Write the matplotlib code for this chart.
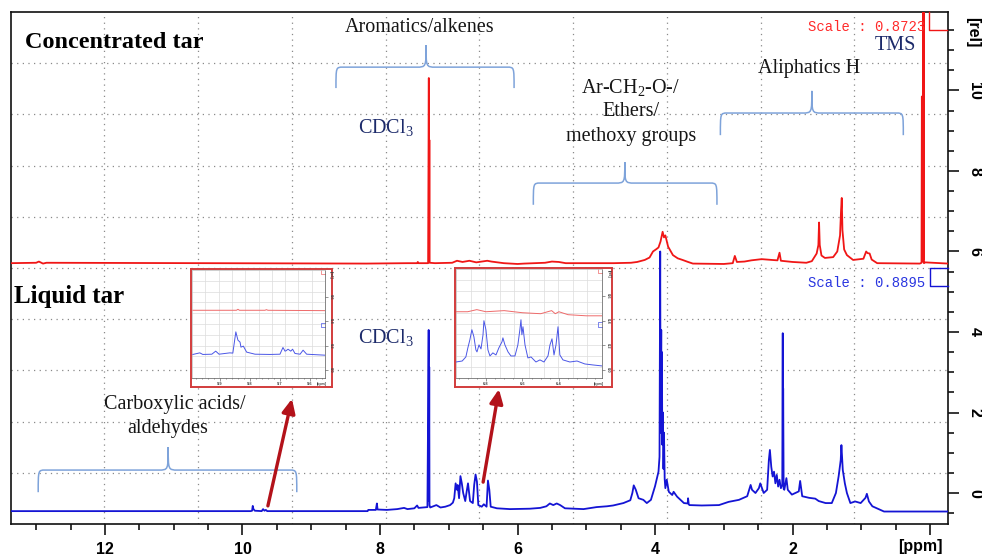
import matplotlib

matplotlib.use("Agg")
import matplotlib.pyplot as plt
from matplotlib.lines import Line2D
from matplotlib.patches import PathPatch
from matplotlib.path import Path
from matplotlib.ticker import FixedLocator, MultipleLocator

# ==========================================================================
# DATA - 1H NMR traces (ppm, relative intensity), concentrated tar is offset
# ==========================================================================
CONC_PPM = [
    13.37, 13.0, 12.96, 12.9, 12.85, 8.2, 7.6, 7.46, 7.45, 7.44,
    7.3, 7.29, 7.286, 7.282, 7.278, 7.2, 6.95, 6.88, 6.8, 6.7,
    6.6, 6.44, 6.38, 6.2, 6.0, 5.9, 5.6, 5.5, 5.4, 5.3,
    4.6, 4.35, 4.26, 4.15, 4.08, 4.03, 3.98, 3.95, 3.92, 3.89,
    3.87, 3.85, 3.81, 3.74, 3.67, 3.6, 3.52, 3.45, 3.0, 2.87,
    2.84, 2.81, 2.7, 2.6, 2.45, 2.3, 2.22, 2.19, 2.17, 2.0,
    1.8, 1.72, 1.65, 1.625, 1.615, 1.605, 1.58, 1.53, 1.41, 1.35,
    1.31, 1.295, 1.285, 1.275, 1.25, 1.21, 1.12, 0.97, 0.93, 0.91,
    0.88, 0.85, 0.77, 0.15, 0.125, 0.12, 0.112, 0.10, 0.097, 0.094,
    0.09, 0.07, -0.26,
]
CONC_INT = [
    5.71, 5.72, 5.75, 5.70, 5.72, 5.70, 5.71, 5.71, 5.74, 5.71,
    5.71, 10.31, 5.75, 8.77, 5.72, 5.71, 5.72, 5.77, 5.74, 5.77,
    5.73, 5.77, 5.75, 5.71, 5.69, 5.70, 5.72, 5.75, 5.74, 5.71,
    5.71, 5.72, 5.74, 5.79, 5.85, 6.00, 6.06, 6.10, 6.25, 6.49,
    6.35, 6.40, 6.12, 5.91, 5.83, 5.79, 5.74, 5.70, 5.69, 5.71,
    5.89, 5.74, 5.75, 5.78, 5.81, 5.79, 5.78, 5.97, 5.77, 5.74,
    5.72, 5.76, 5.95, 6.16, 6.72, 6.16, 5.90, 5.84, 5.86, 6.00,
    6.40, 7.03, 7.33, 6.53, 6.05, 5.91, 5.79, 5.82, 6.00, 5.96,
    5.95, 5.80, 5.71, 5.70, 5.72, 9.85, 5.75, 13.00, 5.80, 13.00,
    5.71, 5.73, 5.70,
]

LIQ_PPM = [
    13.37, 9.88, 9.86, 9.85, 9.84, 9.82, 9.72, 9.70, 9.68, 9.66,
    9.64, 8.18, 8.17, 8.06, 8.045, 8.035, 7.9, 7.75, 7.65, 7.6,
    7.5, 7.46, 7.44, 7.31, 7.292, 7.288, 7.284, 7.28, 7.27, 7.18,
    7.12, 7.05, 6.98, 6.94, 6.92, 6.90, 6.88, 6.87, 6.85, 6.83,
    6.81, 6.79, 6.76, 6.74, 6.72, 6.69, 6.65, 6.63, 6.61, 6.59,
    6.57, 6.52, 6.49, 6.45, 6.43, 6.41, 6.39, 6.30, 6.11, 5.82,
    5.67, 5.58, 5.53, 5.48, 5.43, 5.38, 5.31, 5.04, 4.85, 4.70,
    4.61, 4.46, 4.36, 4.33, 4.31, 4.28, 4.24, 4.17, 4.12, 4.06,
    4.00, 3.95, 3.935, 3.925, 3.92, 3.91, 3.905, 3.90, 3.895, 3.885,
    3.878, 3.87, 3.86, 3.85, 3.83, 3.80, 3.75, 3.73, 3.68, 3.63,
    3.58, 3.525, 3.52, 3.51, 3.50, 3.32, 3.07, 2.93, 2.78, 2.66,
    2.61, 2.59, 2.54, 2.49, 2.47, 2.42, 2.37, 2.345, 2.33, 2.31,
    2.29, 2.27, 2.25, 2.23, 2.21, 2.19, 2.17, 2.15, 2.143, 2.14,
    2.137, 2.13, 2.12, 2.09, 2.07, 2.01, 1.91, 1.89, 1.86, 1.76,
    1.67, 1.62, 1.52, 1.43, 1.37, 1.33, 1.30, 1.29, 1.27, 1.24,
    1.21, 1.16, 1.09, 1.01, 0.94, 0.92, 0.89, 0.84, 0.75, 0.67,
    -0.26,
]
LIQ_INT = [
    -0.45, -0.45, -0.44, -0.32, -0.40, -0.44, -0.45, -0.40, -0.44, -0.42,
    -0.45, -0.45, -0.42, -0.42, -0.26, -0.41, -0.42, -0.40, -0.37, -0.40,
    -0.38, -0.31, -0.37, -0.35, 4.05, -0.20, 3.13, -0.30, -0.36, -0.30,
    -0.36, -0.34, -0.30, -0.24, -0.13, 0.24, 0.08, 0.20, -0.13, 0.42,
    0.24, 0.00, -0.20, 0.03, 0.24, -0.20, -0.25, 0.20, 0.46, 0.28,
    -0.30, -0.34, -0.28, -0.34, 0.31, 0.08, -0.34, -0.38, -0.40, -0.39,
    -0.37, -0.33, -0.26, -0.30, -0.26, -0.30, -0.38, -0.40, -0.35, -0.33,
    -0.31, -0.25, -0.18, 0.00, 0.19, 0.08, -0.13, -0.17, -0.25, -0.17,
    0.17, 0.53, 0.90, 6.00, 1.50, 4.05, 1.50, 3.50, 1.20, 2.00,
    0.60, 1.50, 0.35, 0.12, 0.33, 0.03, -0.05, 0.03, -0.09, -0.17,
    -0.25, -0.26, -0.13, -0.28, -0.30, -0.31, -0.30, -0.22, -0.17, -0.08,
    0.20, 0.08, 0.00, 0.12, 0.24, 0.00, 0.08, 0.82, 1.07, 0.65,
    0.41, 0.53, 0.24, 0.45, 0.16, 0.33, 0.12, 0.20, 3.97, 0.50,
    2.60, 0.10, 0.08, 0.37, 0.08, -0.04, 0.04, 0.30, -0.08, -0.12,
    -0.14, -0.20, -0.25, -0.25, 0.00, 0.42, 0.82, 1.19, 0.57, 0.24,
    0.00, -0.25, -0.21, -0.25, -0.12, -0.02, -0.21, -0.33, -0.40, -0.46,
    -0.46,
]

# expansion 1: aldehyde region
ALD_PPM = [
    9.99, 9.967, 9.957, 9.927, 9.914, 9.903, 9.867, 9.857, 9.847, 9.84,
    9.833, 9.83, 9.822, 9.811, 9.783, 9.733, 9.70, 9.69, 9.683, 9.68,
    9.673, 9.664, 9.658, 9.65, 9.633, 9.623, 9.611, 9.55,
]
ALD_LIQ = [
    0.128, 0.141, 0.128, 0.13, 0.155, 0.13, 0.141, 0.139, 0.313, 0.245,
    0.229, 0.188, 0.196, 0.147, 0.13, 0.128, 0.13, 0.185, 0.155, 0.158,
    0.171, 0.155, 0.171, 0.136, 0.13, 0.163, 0.13, 0.122,
]
ALD_CONC_PPM = [9.99, 9.845, 9.84, 9.835, 9.75, 9.745, 9.74, 9.55]
ALD_CONC = [0.49, 0.49, 0.498, 0.49, 0.49, 0.495, 0.49, 0.487]

# expansion 2: olefinic / aromatic region
ARO_PPM = [
    6.964, 6.93, 6.91, 6.899, 6.888, 6.877, 6.866, 6.855, 6.849, 6.838,
    6.827, 6.816, 6.811, 6.80, 6.789, 6.778, 6.762, 6.745, 6.729, 6.712,
    6.707, 6.696, 6.679, 6.663, 6.641, 6.625, 6.614, 6.608, 6.603, 6.597,
    6.586, 6.57, 6.553, 6.526, 6.504, 6.482, 6.46, 6.449, 6.438, 6.427,
    6.416, 6.405, 6.395, 6.378, 6.34, 6.301, 6.258, 6.214, 6.164,
]
ARO_LIQ = [
    0.065, 0.073, 0.106, 0.18, 0.245, 0.327, 0.27, 0.163, 0.147, 0.204,
    0.171, 0.286, 0.40, 0.327, 0.163, 0.114, 0.139, 0.122, 0.18, 0.229,
    0.261, 0.204, 0.147, 0.114, 0.114, 0.204, 0.327, 0.408, 0.286, 0.351,
    0.204, 0.098, 0.106, 0.065, 0.082, 0.065, 0.114, 0.204, 0.253, 0.122,
    0.204, 0.351, 0.122, 0.082, 0.065, 0.073, 0.049, 0.041, 0.033,
]
ARO_CONC_PPM = [6.964, 6.90, 6.85, 6.80, 6.70, 6.60, 6.50, 6.44, 6.42, 6.40, 6.35, 6.25, 6.164]
ARO_CONC = [0.473, 0.473, 0.49, 0.473, 0.482, 0.465, 0.457, 0.482, 0.457, 0.473, 0.449, 0.44, 0.44]

X_TICKS = [12, 10, 8, 6, 4, 2, 0]
X_LABELS = ["12", "10", "8", "6", "4", "2", ""]
Y_TICKS = [0, 2, 4, 6, 8, 10]
Y_LABELS = ["0", "2", "4", "6", "8", "10"]
INSET_Y_TICKS = [0.0, 0.2, 0.4, 0.6]
INSET_Y_LABELS = ["0.0", "0.2", "0.4", "0.6"]
ALD_TICKS = [9.9, 9.8, 9.7, 9.6]
ARO_TICKS = [6.8, 6.6, 6.4]

# ==========================================================================
# STYLE
# ==========================================================================
W, H = 982, 557
RED = "#f01616"
BLUE = "#1414d4"
NAVY = "#1c2a6a"
INK = "#151515"
BRACE = "#7ea3da"
ARROW = "#b3121a"
GRID = "#8a8a8a"
FRAME = "#d23c3c"
SERIF = "Liberation Serif"

plt.rcParams["font.family"] = ["Liberation Sans", "DejaVu Sans"]
plt.rcParams["mathtext.fontset"] = "custom"
plt.rcParams["mathtext.rm"] = SERIF
plt.rcParams["mathtext.it"] = SERIF + ":italic"
plt.rcParams["mathtext.bf"] = SERIF + ":bold"


def fig_xy(px, py):
    return px / W, 1 - py / H


def fig_rect(x0, y0, x1, y1):
    return [x0 / W, 1 - y1 / H, (x1 - x0) / W, (y1 - y0) / H]


def dotted_grid(ax, color, ls, lw):
    for i in range(1, 10):
        f = i / 10
        ax.plot([f, f], [0, 1], transform=ax.transAxes, color=color, lw=lw, ls=ls, zorder=1)
        ax.plot([0, 1], [f, f], transform=ax.transAxes, color=color, lw=lw, ls=ls, zorder=1)


def draw_brace(ax, left, right, tip, bottom, level, top):
    # ppm runs right-to-left, so moving rightwards means subtracting
    end, cusp = 0.10, 0.14
    verts = [
        (left, bottom), (left, level), (left, level), (left - end, level),
        (tip + cusp, level),
        (tip, level), (tip, level), (tip, top),
        (tip, level), (tip, level), (tip - cusp, level),
        (right + end, level),
        (right, level), (right, level), (right, bottom),
    ]
    C, L = Path.CURVE4, Path.LINETO
    codes = [Path.MOVETO, C, C, C, L, C, C, C, C, C, C, L, C, C, C]
    ax.add_patch(PathPatch(Path(verts, codes), facecolor="none", edgecolor=BRACE,
                           lw=1.1, zorder=4))


def draw_inset(fig, frame_px, inner_px, xlim, ylim, ppm, liq, conc_ppm, conc, ticks, step):
    frame = fig.add_axes(fig_rect(*frame_px))
    frame.set_xticks([])
    frame.set_yticks([])
    for sp in frame.spines.values():
        sp.set_color(FRAME)
        sp.set_linewidth(1.4)

    ax = fig.add_axes(fig_rect(*inner_px))
    ax.set_xlim(*xlim)
    ax.set_ylim(*ylim)
    for i in range(1, 10):
        f = i / 10
        ax.plot([f, f], [0, 1], transform=ax.transAxes, color="#dcdcdc", lw=0.5, zorder=1)
        ax.plot([0, 1], [f, f], transform=ax.transAxes, color="#dcdcdc", lw=0.5, zorder=1)
    ax.plot(conc_ppm, conc, color="#ee6a6a", lw=0.7, zorder=3)
    ax.plot(ppm, liq, color="#4a56e6", lw=0.7, zorder=3)

    ax.yaxis.tick_right()
    ax.xaxis.set_major_locator(FixedLocator(ticks))
    ax.set_xticklabels([f"{t:.1f}" for t in ticks])
    ax.xaxis.set_minor_locator(MultipleLocator(step))
    ax.set_yticks(INSET_Y_TICKS)
    ax.set_yticklabels(INSET_Y_LABELS, rotation=-90, va="center", ha="left")
    ax.tick_params(which="major", direction="out", length=1.8, width=0.4, pad=0.8,
                   labelsize=2.9, colors="#444444")
    ax.tick_params(which="minor", direction="out", length=1.0, width=0.4, colors="#444444")
    for lab in ax.get_xticklabels() + ax.get_yticklabels():
        lab.set_fontweight("bold")
    for side in ("left", "top"):
        ax.spines[side].set_color("#bbbbbb")
        ax.spines[side].set_linewidth(0.5)
    for side in ("right", "bottom"):
        ax.spines[side].set_color("#555555")
        ax.spines[side].set_linewidth(0.5)
    ax.text(1.01, -0.035, "[ppm]", transform=ax.transAxes, ha="right", va="top",
            fontsize=2.6, fontweight="bold", color="#444444")
    ax.text(1.03, 0.99, "[rel]", transform=ax.transAxes, ha="left", va="top",
            rotation=-90, fontsize=2.9, fontweight="bold", color="#444444")
    # little scale markers at the top right of the expansion
    ax.plot([0.97, 0.97, 1.0], [1.0, 0.96, 0.96], transform=ax.transAxes,
            color="#ee6a6a", lw=0.5, clip_on=False)
    ax.plot([1.0, 0.97, 0.97, 1.0], [0.51, 0.51, 0.47, 0.47], transform=ax.transAxes,
            color="#4a56e6", lw=0.5, clip_on=False)
    return ax


def main() -> None:
    fig = plt.figure(figsize=(W / 100, H / 100), dpi=100, facecolor="white")
    ax = fig.add_axes(fig_rect(10.7, 12, 948, 524))
    ax.set_xlim(13.37, -0.26)
    ax.set_ylim(-0.77, 11.95)

    dotted_grid(ax, GRID, (0, (1, 3.5)), 0.9)
    ax.plot(CONC_PPM, CONC_INT, color=RED, lw=1.3, zorder=3)
    ax.plot(LIQ_PPM, LIQ_INT, color=BLUE, lw=1.3, zorder=3)

    # axes: ppm at the bottom, rel on the right, Bruker style
    ax.yaxis.tick_right()
    ax.xaxis.set_major_locator(FixedLocator(X_TICKS))
    ax.set_xticklabels(X_LABELS)
    ax.xaxis.set_minor_locator(MultipleLocator(0.5))
    ax.set_yticks(Y_TICKS)
    ax.set_yticklabels(Y_LABELS, rotation=-90, va="center", ha="left")
    ax.yaxis.set_minor_locator(MultipleLocator(0.5))
    ax.tick_params(which="major", direction="out", length=8, width=1.1, labelsize=11.5)
    ax.tick_params(axis="x", which="major", pad=5)
    ax.tick_params(axis="y", which="major", pad=6)
    ax.tick_params(which="minor", direction="out", length=4.5, width=1.1)
    for lab in ax.get_xticklabels() + ax.get_yticklabels():
        lab.set_fontweight("bold")
    for sp in ax.spines.values():
        sp.set_linewidth(1.2)
        sp.set_color("#111111")

    fig.text(*fig_xy(920, 547), "[ppm]", ha="center", va="center",
             fontsize=11.5, fontweight="bold")
    fig.text(*fig_xy(973, 32), "[rel]", ha="center", va="center", rotation=-90,
             fontsize=11.5, fontweight="bold")

    # vertical scale markers of the two traces
    fig.add_artist(Line2D([929 / W, 929 / W, 947 / W], [1 - 12 / H, 1 - 30 / H, 1 - 30 / H],
                          color=RED, lw=1.0))
    fig.add_artist(Line2D([948 / W, 930 / W, 930 / W, 948 / W],
                          [1 - 268 / H, 1 - 268 / H, 1 - 286 / H, 1 - 286 / H],
                          color=BLUE, lw=1.0))
    fig.text(*fig_xy(925, 27), "Scale : 0.8723", ha="right", va="center",
             family="Liberation Mono", fontsize=10, color="#ff2a2a")
    fig.text(*fig_xy(925, 283), "Scale : 0.8895", ha="right", va="center",
             family="Liberation Mono", fontsize=10, color="#2a36e0")

    # region braces
    draw_brace(ax, 8.64, 6.05, 7.33, 10.06, 10.58, 11.13)
    draw_brace(ax, 5.77, 3.10, 4.44, 7.16, 7.70, 8.22)
    draw_brace(ax, 3.05, 0.39, 1.72, 8.89, 9.44, 9.99)
    draw_brace(ax, 12.97, 9.21, 11.08, 0.02, 0.57, 1.14)

    # labels
    fig.text(*fig_xy(25, 43), "Concentrated tar", ha="left", va="center",
             family=SERIF, fontweight="bold", fontsize=17.5, color="black")
    fig.text(*fig_xy(14, 296), "Liquid tar", ha="left", va="center",
             family=SERIF, fontweight="bold", fontsize=18, color="black")
    serif = dict(family=SERIF, fontsize=14.5, ha="center", va="center")
    fig.text(*fig_xy(420, 28), "Aromatics/alkenes", color=INK, **serif)
    fig.text(*fig_xy(631, 88), "Ar-CH$_\\mathrm{2}$-O-/", color=INK, **serif)
    fig.text(*fig_xy(631, 112), "Ethers/", color=INK, **serif)
    fig.text(*fig_xy(631, 137), "methoxy groups", color=INK, **serif)
    fig.text(*fig_xy(809, 69), "Aliphatics H", color=INK, **serif)
    fig.text(*fig_xy(895, 45), "TMS", color=NAVY, **serif)
    fig.text(*fig_xy(175, 405), "Carboxylic acids/", color=INK, **serif)
    fig.text(*fig_xy(168, 428), "aldehydes", color=INK, **serif)
    fig.text(*fig_xy(358, 128), "CDCl$_\\mathrm{3}$", color=NAVY, family=SERIF,
             fontsize=14.5, ha="left", va="center")
    fig.text(*fig_xy(358, 338), "CDCl$_\\mathrm{3}$", color=NAVY, family=SERIF,
             fontsize=14.5, ha="left", va="center")

    # arrows from the expanded regions to their insets
    arrow = dict(arrowstyle="-|>,head_length=0.6,head_width=0.28", color=ARROW,
                 lw=2.4, shrinkA=0, shrinkB=0, mutation_scale=14)
    ax.annotate("", xy=(9.28, 2.34), xytext=(9.63, -0.32), arrowprops=arrow, zorder=6)
    ax.annotate("", xy=(6.27, 2.58), xytext=(6.50, 0.27), arrowprops=arrow, zorder=6)

    iy = (-0.065, 0.82)
    draw_inset(fig, (191, 269, 332, 387), (192, 270, 325, 378), (9.993, 9.55), iy,
               ALD_PPM, ALD_LIQ, ALD_CONC_PPM, ALD_CONC, ALD_TICKS, 0.02)
    draw_inset(fig, (455, 268, 612, 387), (456, 269, 602, 378), (6.964, 6.164), iy,
               ARO_PPM, ARO_LIQ, ARO_CONC_PPM, ARO_CONC, ARO_TICKS, 0.05)

    fig.savefig("out.png", dpi=100, facecolor="white")
    plt.close(fig)


if __name__ == "__main__":
    main()
